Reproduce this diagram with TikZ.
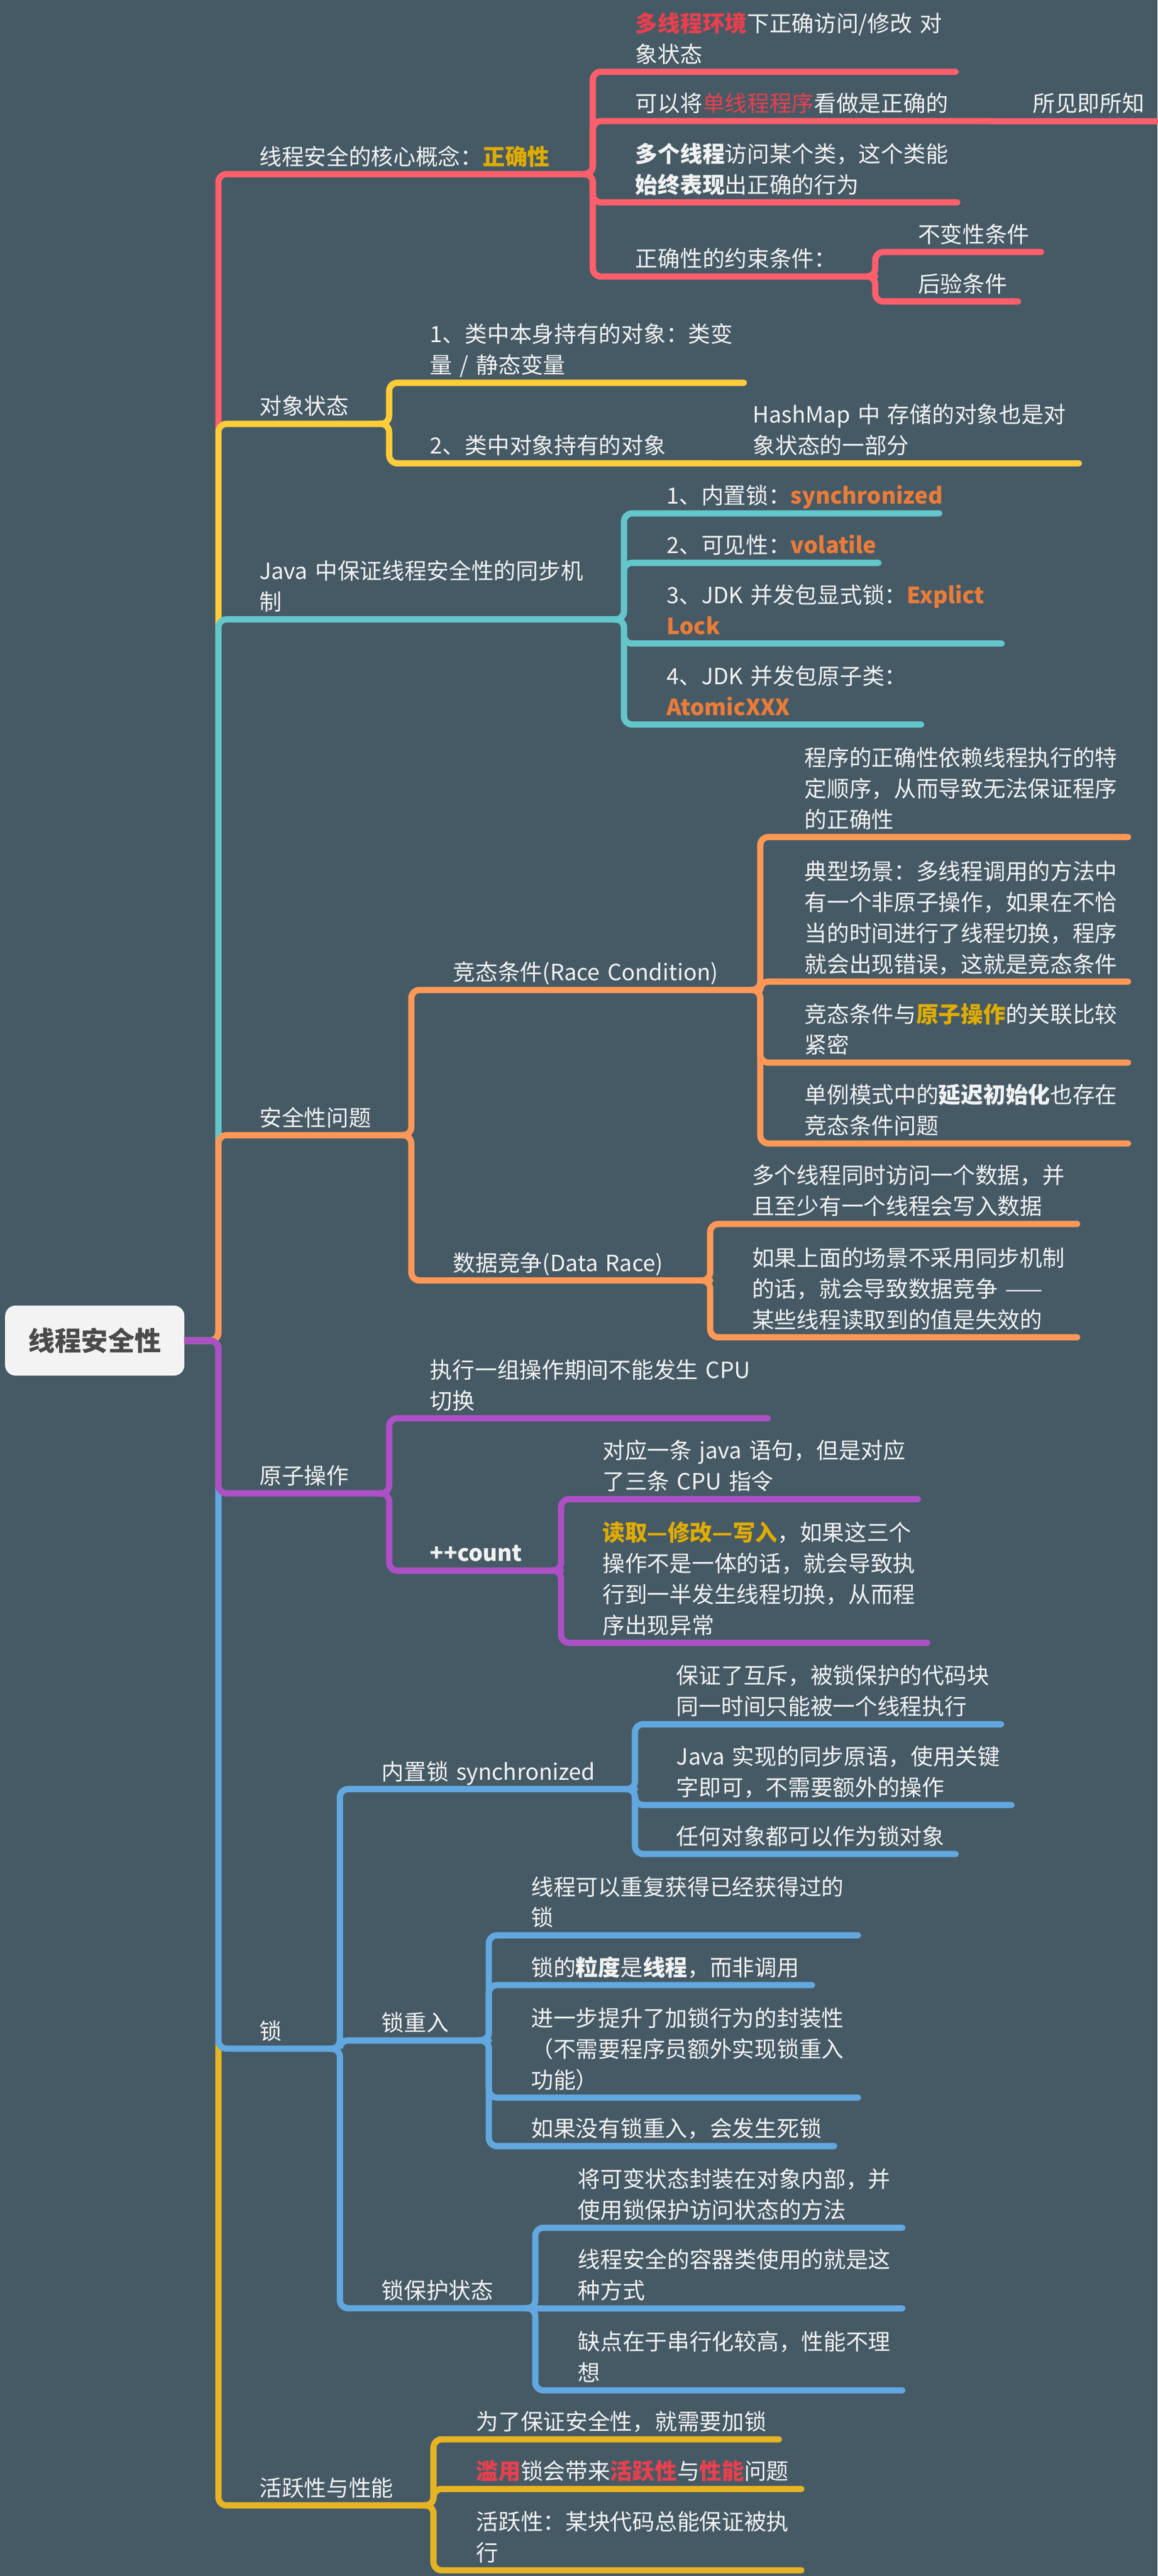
\documentclass[tikz,border=0pt]{standalone}
\usepackage{fontspec}
\setmainfont{Noto Sans CJK SC}
\usepackage{tikz}

% palette of the map
\definecolor{bg}{HTML}{465A66}
\definecolor{ink}{HTML}{F2F2F2}
\definecolor{cRed}{HTML}{FF5F6B}
\definecolor{cYellow}{HTML}{FFCC3A}
\definecolor{cTeal}{HTML}{63C6CB}
\definecolor{cOrange}{HTML}{FF9856}
\definecolor{cPurple}{HTML}{AD50C6}
\definecolor{cBlue}{HTML}{62A8E0}
\definecolor{cGold}{HTML}{E6B324}
\definecolor{hlRed}{HTML}{E8404E}
\definecolor{hlGold}{HTML}{E0AC00}
\definecolor{hlOrange}{HTML}{EB7C38}
\definecolor{rootFill}{HTML}{F3F3F3}
\definecolor{rootInk}{HTML}{4A4A4A}

% coloured bold keyword
\newcommand{\keyw}[2]{\textcolor{#1}{\textbf{#2}}}

\begin{document}
\begin{tikzpicture}[x=1pt,y=-1pt,
    topic/.style={anchor=south west, inner sep=0pt, outer sep=0pt, align=left,
      text=ink, font=\fontsize{13.6}{18.8}\selectfont, execute at end node=\strut},
    root/.style={fill=rootFill, draw=white, line width=0.6pt, rounded corners=6pt,
      minimum width=108.5pt, minimum height=42pt, inner sep=0pt, text=rootInk,
      font=\fontsize{16.2}{20}\selectfont\bfseries},
    link/.style={line width=3.8pt, rounded corners=5pt, line cap=round},
    trunk/.style={link, line cap=butt}]

  % Page (fixed size, dark background)
  \useasboundingbox (0,0) rectangle (705,1568);
  \fill[bg] (0,0) rectangle (705,1568);

  % Root and the point where the trunk starts
  \node[root] (root) at (57.7,816) {线程安全性};
  \coordinate (hub) at (133,816);

  % First level (text starts at 158)
  \node[topic, text width=203pt] (core) at (158,106) {线程安全的核心概念：\keyw{hlGold}{正确性}};
  \node[topic, text width=79pt] (state) at (158,258) {对象状态};
  \node[topic, text width=222pt] (sync) at (158,377) {Java~中保证线程安全性的同步机\\制};
  \node[topic, text width=92.5pt] (issue) at (158,691) {安全性问题};
  \node[topic, text width=79pt] (atom) at (158,909) {原子操作};
  \node[topic, text width=49pt] (lock) at (158,1247) {锁};
  \node[topic, text width=106pt] (live) at (158,1525) {活跃性与性能};

  % Correctness
  \node[topic, text width=195pt] (core1) at (387,43.7) {\keyw{hlRed}{多线程环境}下正确访问/修改~对\\象状态};
  \node[topic, text width=216.5pt] (core2) at (387,73.7) {可以将\textcolor{hlRed}{单线程程序}看做是正确的};
  \node[topic, text width=75pt] (core2b) at (629,73.7) {所见即所知};
  \node[topic, text width=196pt] (core3) at (387,123.2) {\textbf{多个线程}访问某个类，这个类能\\\textbf{始终表现}出正确的行为};
  \node[topic, text width=146pt] (core4) at (387,168.3) {正确性的约束条件：};
  \node[topic, text width=75pt] (core41) at (559,153.4) {不变性条件};
  \node[topic, text width=61pt] (core42) at (559,183.5) {后验条件};

  % Object state
  \node[topic, text width=191pt] (state1) at (262,233) {1、类中本身持有的对象：类变\\量~/~静态变量};
  \node[topic, text width=171pt] (state2) at (262,282) {2、类中对象持有的对象};
  \node[topic, text width=198.5pt] (state2b) at (458.5,282) {HashMap~中~存储的对象也是对\\象状态的一部分};

  % Synchronisation in Java
  \node[topic, text width=166pt] (sync1) at (406,312.5) {1、内置锁：\keyw{hlOrange}{synchronized}};
  \node[topic, text width=129pt] (sync2) at (406,342.6) {2、可见性：\keyw{hlOrange}{volatile}};
  \node[topic, text width=204pt] (sync3) at (406,391.7) {3、JDK~并发包显式锁：\keyw{hlOrange}{Explict}\\\keyw{hlOrange}{Lock}};
  \node[topic, text width=155pt] (sync4) at (406,441) {4、JDK~并发包原子类：\\\keyw{hlOrange}{AtomicXXX}};

  % Safety issues
  \node[topic, text width=187pt] (race) at (276,602.6) {竞态条件(Race~Condition)};
  \node[topic, text width=156.5pt] (drace) at (276,779.4) {数据竞争(Data~Race)};
  \node[topic, text width=197pt] (race1) at (490,509.5) {程序的正确性依赖线程执行的特\\定顺序，从而导致无法保证程序\\的正确性};
  \node[topic, text width=197pt] (race2) at (490,597.5) {典型场景：多线程调用的方法中\\有一个非原子操作，如果在不恰\\当的时间进行了线程切换，程序\\就会出现错误，这就是竞态条件};
  \node[topic, text width=197pt] (race3) at (490,646.8) {竞态条件与\keyw{hlGold}{原子操作}的关联比较\\紧密};
  \node[topic, text width=197pt] (race4) at (490,696) {单例模式中的\textbf{延迟初始化}也存在\\竞态条件问题};
  \node[topic, text width=198pt] (drace1) at (458,745) {多个线程同时访问一个数据，并\\且至少有一个线程会写入数据};
  \node[topic, text width=198pt] (drace2) at (458,814) {如果上面的场景不采用同步机制\\的话，就会导致数据竞争~——\\某些线程读取到的值是失效的};

  % Atomic operations
  \node[topic, text width=205.6pt] (atom1) at (262,863.3) {执行一组操作期间不能发生~CPU\\切换};
  \node[topic, text width=79.7pt] (count) at (262,956) {\textbf{++count}};
  \node[topic, text width=192pt] (count1) at (367,912.5) {对应一条~java~语句，但是对应\\了三条~CPU~指令};
  \node[topic, text width=197.7pt] (count2) at (367,1000) {\keyw{hlGold}{读取—修改—写入}，如果这三个\\操作不是一体的话，就会导致执\\行到一半发生线程切换，从而程\\序出现异常};

  % Locks
  \node[topic, text width=154.2pt] (inlock) at (232.5,1089) {内置锁~synchronized};
  \node[topic, text width=65.2pt] (reent) at (232.5,1242) {锁重入};
  \node[topic, text width=93.5pt] (guard) at (232.5,1405) {锁保护状态};
  \node[topic, text width=197.7pt] (inlock1) at (412,1049.5) {保证了互斥，被锁保护的代码块\\同一时间只能被一个线程执行};
  \node[topic, text width=204pt] (inlock2) at (412,1098.7) {Java~实现的同步原语，使用关键\\字即可，不需要额外的操作};
  \node[topic, text width=170pt] (inlock3) at (412,1128.5) {任何对象都可以作为锁对象};
  \node[topic, text width=199pt] (reent1) at (323.5,1178) {线程可以重复获得已经获得过的\\锁};
  \node[topic, text width=171.1pt] (reent2) at (323.5,1208.3) {锁的\textbf{粒度}是\textbf{线程}，而非调用};
  \node[topic, text width=199pt] (reent3) at (323.5,1276.8) {进一步提升了加锁行为的封装性\\（不需要程序员额外实现锁重入\\功能）};
  \node[topic, text width=184.5pt] (reent4) at (323.5,1306.3) {如果没有锁重入，会发生死锁};
  \node[topic, text width=197.5pt] (guard1) at (352,1356) {将可变状态封装在对象内部，并\\使用锁保护访问状态的方法};
  \node[topic, text width=197.5pt] (guard2) at (352,1405) {线程安全的容器类使用的就是这\\种方式};
  \node[topic, text width=197.5pt] (guard3) at (352,1455) {缺点在于串行化较高，性能不理\\想};

  % Liveness and performance
  \node[topic, text width=184.4pt] (live1) at (290,1484.8) {为了保证安全性，就需要加锁};
  \node[topic, text width=198pt] (live2) at (290,1515) {\keyw{hlRed}{滥用}锁会带来\keyw{hlRed}{活跃性}与\keyw{hlRed}{性能}问题};
  \node[topic, text width=198pt] (live3) at (290,1564.5) {活跃性：某块代码总能保证被执\\行};

  % Trunk (the branch nearest the root is drawn last)
  \draw[trunk, cRed] (root.east) -- (hub) |- (core.south east);
  \draw[trunk, cYellow] (root.east) -- (hub) |- (state.south east);
  \draw[trunk, cTeal] (root.east) -- (hub) |- (sync.south east);
  \draw[trunk, cOrange] (root.east) -- (hub) |- (issue.south east);
  \draw[trunk, cGold] (root.east) -- (hub) |- (live.south east);
  \draw[trunk, cBlue] (root.east) -- (hub) |- (lock.south east);
  \draw[trunk, cPurple] (root.east) -- (hub) |- (atom.south east);

  % Correctness links
  \draw[link, cRed] ([xshift=-6pt]core.south east) -- (core.south east) |- (core1.south east);
  \draw[link, cRed] ([xshift=-6pt]core.south east) -- (core.south east) |- (core2.south east);
  \draw[link, cRed] (core2.south east) -- (core2b.south east);
  \draw[link, cRed] ([xshift=-6pt]core.south east) -- (core.south east) |- (core3.south east);
  \draw[link, cRed] ([xshift=-6pt]core.south east) -- (core.south east) |- (core4.south east);
  \draw[link, cRed] ([xshift=-6pt]core4.south east) -- (core4.south east) |- (core41.south east);
  \draw[link, cRed] ([xshift=-6pt]core4.south east) -- (core4.south east) |- (core42.south east);

  % Object state links
  \draw[link, cYellow] ([xshift=-6pt]state.south east) -- (state.south east) |- (state1.south east);
  \draw[link, cYellow] ([xshift=-6pt]state.south east) -- (state.south east) |- (state2.south east);
  \draw[link, cYellow] (state2.south east) -- (state2b.south east);

  % Synchronisation links
  \draw[link, cTeal] ([xshift=-6pt]sync.south east) -- (sync.south east) |- (sync1.south east);
  \draw[link, cTeal] ([xshift=-6pt]sync.south east) -- (sync.south east) |- (sync2.south east);
  \draw[link, cTeal] ([xshift=-6pt]sync.south east) -- (sync.south east) |- (sync3.south east);
  \draw[link, cTeal] ([xshift=-6pt]sync.south east) -- (sync.south east) |- (sync4.south east);

  % Safety issue links
  \draw[link, cOrange] ([xshift=-6pt]issue.south east) -- (issue.south east) |- (race.south east);
  \draw[link, cOrange] ([xshift=-6pt]issue.south east) -- (issue.south east) |- (drace.south east);
  \draw[link, cOrange] ([xshift=-6pt]race.south east) -- (race.south east) |- (race1.south east);
  \draw[link, cOrange] ([xshift=-6pt]race.south east) -- (race.south east) |- (race2.south east);
  \draw[link, cOrange] ([xshift=-6pt]race.south east) -- (race.south east) |- (race3.south east);
  \draw[link, cOrange] ([xshift=-6pt]race.south east) -- (race.south east) |- (race4.south east);
  \draw[link, cOrange] ([xshift=-6pt]drace.south east) -- (drace.south east) |- (drace1.south east);
  \draw[link, cOrange] ([xshift=-6pt]drace.south east) -- (drace.south east) |- (drace2.south east);

  % Atomic operation links
  \draw[link, cPurple] ([xshift=-6pt]atom.south east) -- (atom.south east) |- (atom1.south east);
  \draw[link, cPurple] ([xshift=-6pt]atom.south east) -- (atom.south east) |- (count.south east);
  \draw[link, cPurple] ([xshift=-6pt]count.south east) -- (count.south east) |- (count1.south east);
  \draw[link, cPurple] ([xshift=-6pt]count.south east) -- (count.south east) |- (count2.south east);

  % Lock links
  \draw[link, cBlue] ([xshift=-6pt]lock.south east) -- (lock.south east) |- (inlock.south east);
  \draw[link, cBlue] ([xshift=-6pt]lock.south east) -- (lock.south east) |- (reent.south east);
  \draw[link, cBlue] ([xshift=-6pt]lock.south east) -- (lock.south east) |- (guard.south east);
  \draw[link, cBlue] ([xshift=-6pt]inlock.south east) -- (inlock.south east) |- (inlock1.south east);
  \draw[link, cBlue] ([xshift=-6pt]inlock.south east) -- (inlock.south east) |- (inlock2.south east);
  \draw[link, cBlue] ([xshift=-6pt]inlock.south east) -- (inlock.south east) |- (inlock3.south east);
  \draw[link, cBlue] ([xshift=-6pt]reent.south east) -- (reent.south east) |- (reent1.south east);
  \draw[link, cBlue] ([xshift=-6pt]reent.south east) -- (reent.south east) |- (reent2.south east);
  \draw[link, cBlue] ([xshift=-6pt]reent.south east) -- (reent.south east) |- (reent3.south east);
  \draw[link, cBlue] ([xshift=-6pt]reent.south east) -- (reent.south east) |- (reent4.south east);
  \draw[link, cBlue] ([xshift=-6pt]guard.south east) -- (guard.south east) |- (guard1.south east);
  \draw[link, cBlue] (guard.south east) -- (guard2.south east);
  \draw[link, cBlue] ([xshift=-6pt]guard.south east) -- (guard.south east) |- (guard3.south east);

  % Liveness links
  \draw[link, cGold] ([xshift=-6pt]live.south east) -- (live.south east) |- (live1.south east);
  \draw[link, cGold] ([xshift=-6pt]live.south east) -- (live.south east) |- (live2.south east);
  \draw[link, cGold] ([xshift=-6pt]live.south east) -- (live.south east) |- (live3.south east);
\end{tikzpicture}
\end{document}
